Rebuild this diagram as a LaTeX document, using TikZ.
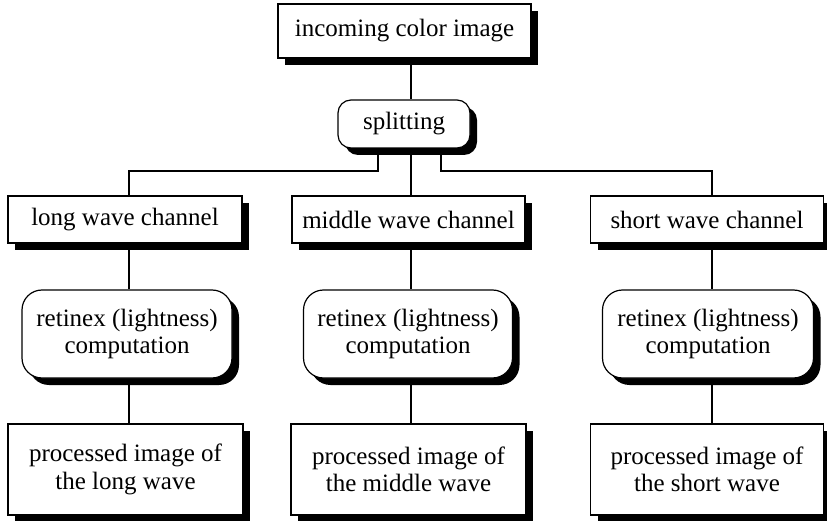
\documentclass[tikz,border=0pt]{standalone}
\usepackage{fontspec}
\setmainfont{Liberation Serif}
\newfontfamily\timesfont{Liberation Serif}
\usetikzlibrary{shadows,backgrounds}
\begin{document}
\begin{tikzpicture}[x=1pt,y=-1pt,
  box/.style={draw=black,line width=1.2pt,fill=white,inner sep=0pt,align=center,
    font=\timesfont\fontsize{25}{27.5}\selectfont,
    drop shadow={shadow xshift=7pt,shadow yshift=-7pt,fill=black,opacity=1}},
  rbox/.style={box,rounded corners=#1},
  link/.style={line width=1.3pt}]
\useasboundingbox (0,0) rectangle (827,521);
% columns
\coordinate (cL) at (129,0);
\coordinate (cM) at (411,0);
\coordinate (cR) at (712,0);
\coordinate (legL) at (378,171);
\coordinate (legR) at (441,171);
% nodes
\node[box,minimum width=253,minimum height=54] (inc) at (404.5,31) {incoming color image};
\node[rbox=13pt,minimum width=132,minimum height=48] (split) at (404,124) {splitting};
\node[box,minimum width=234,minimum height=47] (long) at (125,219.5) {long wave channel};
\node[box,minimum width=233,minimum height=47] (mid) at (408.5,219.5) {middle wave channel};
\node[box,minimum width=233,minimum height=47] (short) at (707,219.5) {short wave channel};
\node[rbox=20pt,minimum width=210,minimum height=88] (retL) at (127,334) {retinex (lightness)\\computation};
\node[rbox=20pt,minimum width=209,minimum height=88] (retM) at (408,334) {retinex (lightness)\\computation};
\node[rbox=20pt,minimum width=211,minimum height=88] (retR) at (708,334) {retinex (lightness)\\computation};
\node[box,minimum width=235,minimum height=91] (procL) at (125.5,469.5) {processed image of\\the long wave};
\node[box,minimum width=235,minimum height=91] (procM) at (408.5,469.5) {processed image of\\the middle wave};
\node[box,minimum width=233,minimum height=91] (procR) at (707,469.5) {processed image of\\the short wave};
% connectors
\begin{scope}[on background layer]
\draw[link] (inc.south -| cM) -- (split.north -| cM);
\draw[link] (split.south -| cM) -- (mid.north -| cM);
\draw[link] (split.south -| legL) -- (legL) -- (legL -| cL) -- (long.north -| cL);
\draw[link] (split.south -| legR) -- (legR) -- (legR -| cR) -- (short.north -| cR);
\draw[link] (long.south -| cL) -- (retL.north -| cL);
\draw[link] (retL.south -| cL) -- (procL.north -| cL);
\draw[link] (mid.south -| cM) -- (retM.north -| cM);
\draw[link] (retM.south -| cM) -- (procM.north -| cM);
\draw[link] (short.south -| cR) -- (retR.north -| cR);
\draw[link] (retR.south -| cR) -- (procR.north -| cR);
\end{scope}
\end{tikzpicture}
\end{document}
